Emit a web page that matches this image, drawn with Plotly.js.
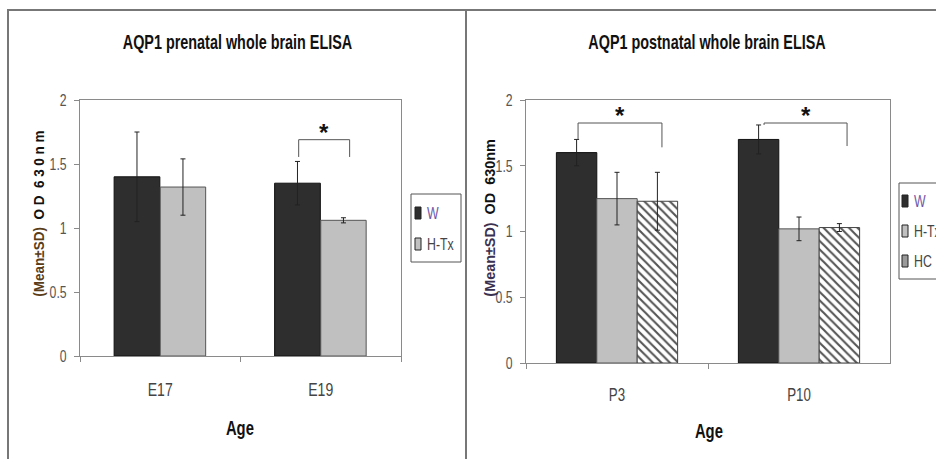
<!DOCTYPE html>
<html><head><meta charset="utf-8">
<script src="https://cdn.plot.ly/plotly-3.0.1.min.js"></script>
<style>html,body{margin:0;padding:0;background:#fff}#chart{width:936px;height:459px}</style>
</head><body><div id="chart"></div>
<script>
// ---- data ----
const preAges = ['E17', 'E19'];
const postAges = ['P3', 'P10'];
const preW = [1.40, 1.35];
const preWsd = [0.35, 0.17];
const preHTx = [1.32, 1.06];
const preHTxsd = [0.22, 0.02];
const postW = [1.60, 1.70];
const postWsd = [0.10, 0.11];
const postHTx = [1.25, 1.02];
const postHTxsd = [0.20, 0.09];
const postHC = [1.23, 1.03];
const postHCsd = [0.22, 0.03];
const seriesNames = ['W', 'H-Tx', 'HC'];
const titles = ['AQP1 prenatal whole brain ELISA', 'AQP1 postnatal whole brain ELISA'];
const yTickVals = [0, 0.5, 1, 1.5, 2];

const W = 936, H = 459;
const px = v => v / W, py = v => 1 - v / H;
const SANS = '"Liberation Sans", Arial, sans-serif';
const cW = '#2e2e2e', cH = '#c0c0c0';

function eb(arr) { return {type: 'data', array: arr, visible: true, color: '#222', thickness: 1, width: 2.5}; }

const traces = [
  {type: 'bar', x: preAges, y: preW, error_y: eb(preWsd), xaxis: 'x', yaxis: 'y', width: 0.285, offset: -0.2875,
   marker: {color: cW, line: {color: '#111', width: 1}}, showlegend: false, name: seriesNames[0]},
  {type: 'bar', x: preAges, y: preHTx, error_y: eb(preHTxsd), xaxis: 'x', yaxis: 'y', width: 0.283, offset: 0,
   marker: {color: cH, line: {color: '#555', width: 1}}, showlegend: false, name: seriesNames[1]},
  {type: 'bar', x: postAges, y: postW, error_y: eb(postWsd), xaxis: 'x2', yaxis: 'y2', width: 0.222, offset: -0.333,
   marker: {color: cW, line: {color: '#111', width: 1}}, showlegend: false, name: seriesNames[0]},
  {type: 'bar', x: postAges, y: postHTx, error_y: eb(postHTxsd), xaxis: 'x2', yaxis: 'y2', width: 0.222, offset: -0.111,
   marker: {color: cH, line: {color: '#555', width: 1}}, showlegend: false, name: seriesNames[1]},
  {type: 'bar', x: postAges, y: postHC, error_y: eb(postHCsd), xaxis: 'x2', yaxis: 'y2', width: 0.222, offset: 0.111,
   marker: {color: '#fff', line: {color: '#444', width: 1},
            pattern: {shape: '\\', fgcolor: '#555', bgcolor: '#fff', size: 6, solidity: 0.35}},
   showlegend: false, name: seriesNames[2]}
];

const axisCommon = {
  showline: true, linecolor: '#8a8a8a', linewidth: 1, mirror: true,
  ticks: 'outside', ticklen: 5, tickcolor: '#8a8a8a', showgrid: false, zeroline: false, fixedrange: true
};
const xCommon = Object.assign({}, axisCommon, {type: 'category', range: [-0.5, 1.5], tickson: 'boundaries'});
const yCommon = Object.assign({}, axisCommon, {range: [0, 2], tickvals: yTickVals, ticktext: yTickVals.map(String),
  ticklabelstandoff: 4, tickfont: {family: SANS, size: 17, color: '#555'}});

// significance brackets: [axis, xLeft, xRight, yTop, yLeftLeg, yRightLeg]
const brackets = [
  ['', 0.8625, 1.18, 1.69, 1.555, 1.555],
  ['2', -0.214, 0.247, 1.825, 1.70, 1.64],
  ['2', 0.808, 1.264, 1.825, 1.81, 1.65]
];
const shapes = [];
const annotations = [];
const annFit = [];   // per annotation: [horizontal scale, pivot mode]
function addAnn(a, s, mode) {
  annotations.push(Object.assign({showarrow: false, xanchor: 'center', yanchor: 'middle'}, a));
  annFit.push([s || 1, mode || 'middle']);
}

brackets.forEach(b => {
  const xr = 'x' + b[0], yr = 'y' + b[0];
  const ln = {color: '#555', width: 1};
  shapes.push({type: 'line', xref: xr, yref: yr, x0: b[1], x1: b[2], y0: b[3], y1: b[3], line: ln});
  shapes.push({type: 'line', xref: xr, yref: yr, x0: b[1], x1: b[1], y0: b[3], y1: b[4], line: ln});
  shapes.push({type: 'line', xref: xr, yref: yr, x0: b[2], x1: b[2], y0: b[3], y1: b[5], line: ln});
  addAnn({xref: xr, yref: yr, x: (b[1] + b[2]) / 2, y: b[3], text: '<b>*</b>',
    yanchor: 'bottom', yshift: -8, font: {family: SANS, size: 24, color: '#111'}});
});

// panel borders
shapes.push({type: 'rect', xref: 'paper', yref: 'paper', x0: px(8), x1: px(466), y0: -0.1, y1: py(10), line: {color: '#777', width: 2}});
shapes.push({type: 'rect', xref: 'paper', yref: 'paper', x0: px(466), x1: 1.2, y0: -0.1, y1: py(10), line: {color: '#777', width: 2}});

// titles
const tFont = {family: SANS, size: 20, color: '#111'};
addAnn({xref: 'paper', yref: 'paper', x: px(237), y: py(42), text: '<b>' + titles[0] + '</b>', font: tFont}, 0.72);
addAnn({xref: 'paper', yref: 'paper', x: px(707), y: py(42), text: '<b>' + titles[1] + '</b>', font: tFont}, 0.72);
// axis titles
const aFont = {family: SANS, size: 20, color: '#111'};
addAnn({xref: 'paper', yref: 'paper', x: px(240), y: py(428), text: '<b>Age</b>', font: aFont}, 0.74);
addAnn({xref: 'paper', yref: 'paper', x: px(709), y: py(431), text: '<b>Age</b>', font: aFont}, 0.74);
const yFont = {family: SANS, size: 15, color: '#111'};
addAnn({xref: 'paper', yref: 'paper', x: px(38), y: py(214), textangle: -90, font: yFont,
  text: '<b><span style="color:#5a3d18">(Mean±SD)</span>  O D  6 3 0 n m</b>'}, 0.9);
addAnn({xref: 'paper', yref: 'paper', x: px(490), y: py(218), textangle: -90, font: yFont,
  text: '<b><span style="color:#3a3050">(Mean±SD)</span>  OD  630nm</b>'}, 0.96);

// legends
const lFont = {family: SANS, size: 16, color: '#333'};
function legendItem(x, yc, label, fill, txtColor) {
  shapes.push({type: 'rect', xref: 'paper', yref: 'paper', x0: px(x), x1: px(x + 6), y0: py(yc + 6), y1: py(yc - 6),
    fillcolor: fill, line: {color: '#222', width: 1}});
  addAnn({xref: 'paper', yref: 'paper', x: px(x + 10), y: py(yc), xanchor: 'left', text: label,
    font: Object.assign({}, lFont, {color: txtColor})}, 0.77, 'start');
}
shapes.push({type: 'rect', xref: 'paper', yref: 'paper', x0: px(411), x1: px(461), y0: py(262), y1: py(194), line: {color: '#555', width: 1}});
legendItem(415, 213, seriesNames[0], cW, '#6f58a8');
legendItem(415, 244, seriesNames[1], cH, '#444');
shapes.push({type: 'rect', xref: 'paper', yref: 'paper', x0: px(899), x1: px(960), y0: py(279), y1: py(183), line: {color: '#555', width: 1}});
legendItem(902, 201, seriesNames[0], cW, '#6f58a8');
legendItem(902, 231, seriesNames[1], cH, '#444');
legendItem(902, 261, seriesNames[2], '#9a9a9a', '#444');

const layout = {
  width: W, height: H, margin: {l: 0, r: 0, t: 0, b: 0, autoexpand: false},
  paper_bgcolor: '#fff', plot_bgcolor: '#fff', showlegend: false, barmode: 'group',
  xaxis: Object.assign({}, xCommon, {domain: [px(80), px(401)], anchor: 'y', ticklabelstandoff: 16,
    tickfont: {family: SANS, size: 19, color: '#444'}}),
  yaxis: Object.assign({}, yCommon, {domain: [1 - 356 / H, 1 - 100 / H], anchor: 'x'}),
  xaxis2: Object.assign({}, xCommon, {domain: [px(526), px(890)], anchor: 'y2', ticklabelstandoff: 15,
    tickfont: {family: SANS, size: 18, color: '#444'}}),
  yaxis2: Object.assign({}, yCommon, {domain: [1 - 363 / H, 1 - 100 / H], anchor: 'x2'}),
  shapes: shapes, annotations: annotations
};

// condense text horizontally (the original uses a narrow face)
function condense(el, s, mode) {
  const bb = el.getBBox();
  const anchor = mode || el.getAttribute('text-anchor') || 'start';
  const cx = anchor === 'middle' ? bb.x + bb.width / 2 : anchor === 'end' ? bb.x + bb.width : bb.x;
  const t = el.getAttribute('transform') || '';
  el.setAttribute('transform', t + ' translate(' + cx + ',0) scale(' + s + ',1) translate(' + (-cx) + ',0)');
}
Plotly.newPlot('chart', traces, layout, {staticPlot: true}).then(gd => {
  gd.querySelectorAll('.xtick text, .x2tick text').forEach(el => condense(el, 0.74, 'middle'));
  gd.querySelectorAll('.ytick text, .y2tick text').forEach(el => condense(el, 0.72, 'end'));
  gd.querySelectorAll('.annotation').forEach(g => {
    const i = +g.getAttribute('data-index');
    const f = annFit[i];
    const txt = g.querySelector('text.annotation-text');
    if (f && txt && f[0] !== 1) condense(txt, f[0], f[1]);
  });
});
</script></body></html>
